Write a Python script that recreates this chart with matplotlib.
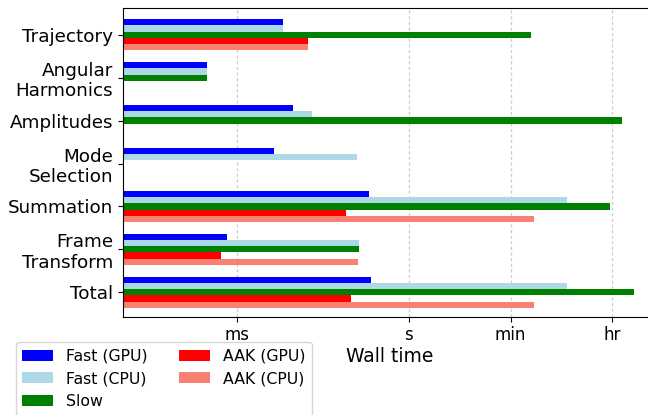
import numpy as np
import matplotlib
matplotlib.use("Agg")
import matplotlib.pyplot as plt
from matplotlib.ticker import FixedLocator, NullLocator

# timings in seconds (nan = not shown)
categories = ["Trajectory", "Angular\nHarmonics", "Amplitudes", "Mode\nSelection",
              "Summation", "Frame\nTransform", "Total"]
fast_gpu = [6.3e-3, 3.0e-4, 9.5e-3, 4.4e-3, 0.20, 6.6e-4, 0.217]
fast_cpu = [6.3e-3, 3.0e-4, 2.04e-2, 0.125, 580, 0.134, 580]
slow = [136, 3.0e-4, 5300, np.nan, 3330, 0.134, 8630]
aak_gpu = [1.73e-2, np.nan, np.nan, np.nan, 0.080, 5.25e-4, 0.098]
aak_cpu = [1.73e-2, np.nan, np.nan, np.nan, 156, 0.127, 156]

series = [("Fast (GPU)", fast_gpu, "blue"),
          ("Fast (CPU)", fast_cpu, "lightblue"),
          ("Slow", slow, "green"),
          ("AAK (GPU)", aak_gpu, "red"),
          ("AAK (CPU)", aak_cpu, "salmon")]

tick_vals = [1e-3, 1, 60, 3600]
tick_labels = ["ms", "s", "min", "hr"]

fig = plt.figure(figsize=(6.48, 4.15), dpi=100)
ax = fig.add_axes([122.7 / 648, 0.2369, (657 - 122.7) / 648, 0.9807 - 0.2369])

y = np.arange(len(categories))
h = 0.145
for i, (name, vals, col) in enumerate(series):
    ax.barh(y + (i - 2) * h, vals, height=h, left=1e-6, color=col, label=name)

ax.set_xscale("log")
ax.set_xlim(1e-5, 10 ** 4.337)
ax.set_ylim(6.568, -0.622)
ax.xaxis.set_major_locator(FixedLocator(tick_vals))
ax.xaxis.set_minor_locator(NullLocator())
ax.set_xticklabels(tick_labels, fontsize=12)
ax.set_yticks(y)
ax.set_yticklabels(categories, fontsize=13.2)
ax.set_xlabel("Wall time", fontsize=13.5, labelpad=2)
ax.grid(axis="x", linestyle=(0, (2.5, 2)), color="#cccccc", linewidth=0.9)
ax.set_axisbelow(True)

ax.legend(loc="upper left", bbox_to_anchor=(15.7 / 648, 1 - 342.3 / 415),
          bbox_transform=fig.transFigure, borderaxespad=0, ncol=2, fontsize=11.3)

fig.savefig("out.png", dpi=100)
